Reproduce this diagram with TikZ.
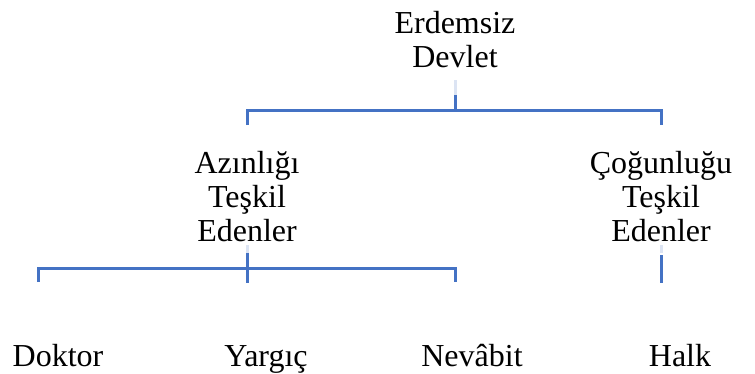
\documentclass[tikz,border=0pt]{standalone}
\usepackage{fontspec}
\setmainfont{Liberation Serif}
\definecolor{wireblue}{RGB}{68,114,196}
\definecolor{wirefaint}{RGB}{220,228,243}
\tikzset{
	lbl/.style={inner sep=0pt, align=center, font=\fontsize{32}{34}\selectfont},
	wire/.style={wireblue, line width=3pt},
	faint/.style={wirefaint, line width=3pt}
}
\begin{document}
\begin{tikzpicture}[x=1pt, y=-1pt]
	\useasboundingbox (0,0) rectangle (755,373);
	
	\node [lbl] (devlet) at (455,40) {Erdemsiz\\Devlet};				% Wurzel
	\node [lbl] (azinlik) at (247,197) {Azınlığı\\Teşkil\\Edenler};
	\node [lbl] (cogunluk) at (661,197) {Çoğunluğu\\Teşkil\\Edenler};
	
	\node [lbl, anchor=base] (doktor) at (58,366) {Doktor};			% untere Reihe
	\node [lbl, anchor=base] (yargic) at (266,366) {Yargıç};
	\node [lbl, anchor=base] (nevabit) at (472,366) {Nevâbit};
	\node [lbl, anchor=base] (halk) at (680,366) {Halk};
	
	\coordinate (top-bar) at (455,110);								% obere Klammer
	\draw [faint] (devlet.south) ++(0,12) -- ++(0,15) coordinate (devlet-stub);
	\draw [wire] (devlet-stub) -- (top-bar);
	\draw [wire] (azinlik.north |- top-bar) ++(0,15) -- ++(0,-15) -- (cogunluk.north |- top-bar) -- ++(0,15);
	
	\coordinate (mid-left) at (38,268);								% untere Klammer
	\coordinate (mid-right) at (455,268);
	\draw [faint] (azinlik.south) ++(0,3) -- ++(0,8) coordinate (azinlik-stub);
	\draw [wire] (azinlik-stub) -- ++(0,30);
	\draw [wire] (mid-left) ++(0,14) -- (mid-left) -- (mid-right) -- ++(0,14);
	
	\draw [faint] (cogunluk.south) ++(0,3) -- ++(0,8) coordinate (cogunluk-stub);
	\draw [wire] (cogunluk-stub) ++(0,2) -- ++(0,28);
\end{tikzpicture}
\end{document}
